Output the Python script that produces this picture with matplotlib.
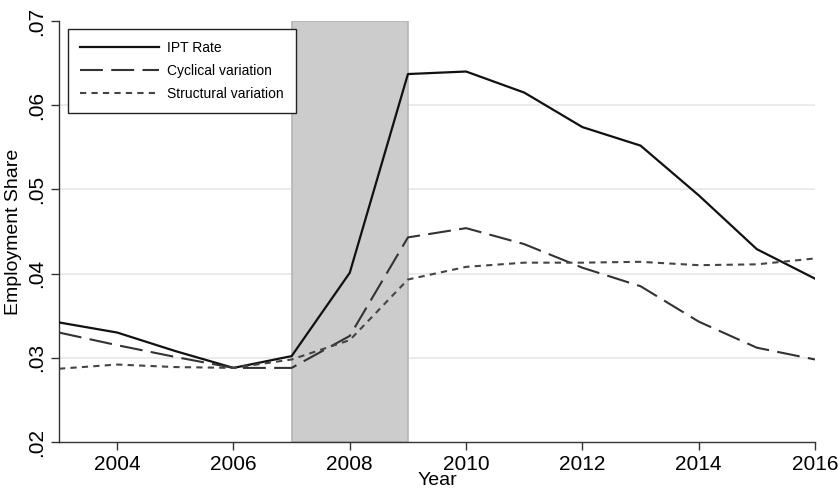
import matplotlib
matplotlib.use("Agg")
import matplotlib.pyplot as plt

# --- DATA ---
years = list(range(2003, 2017))
ipt_rate = [0.0342, 0.0330, 0.0308, 0.0288, 0.0302, 0.0401, 0.0637,
            0.0640, 0.0615, 0.0574, 0.0552, 0.0493, 0.0429, 0.0394]
cyclical = [0.0330, 0.0315, 0.0301, 0.0288, 0.0288, 0.0326, 0.0443,
            0.0454, 0.0435, 0.0407, 0.0385, 0.0343, 0.0312, 0.0298]
structural = [0.0287, 0.0292, 0.0289, 0.0288, 0.0298, 0.0321, 0.0393,
              0.0408, 0.0413, 0.0413, 0.0414, 0.0410, 0.0411, 0.0418]
recession = (2007, 2009)
xticks = [2004, 2006, 2008, 2010, 2012, 2014, 2016]
yticks = [0.02, 0.03, 0.04, 0.05, 0.06, 0.07]
ytick_labels = [".02", ".03", ".04", ".05", ".06", ".07"]

plt.rcParams["font.family"] = ["Liberation Sans", "DejaVu Sans"]

fig = plt.figure(figsize=(8.4, 4.98), dpi=100)
ax = fig.add_axes([59 / 840, 1 - 442 / 498, (815 - 59) / 840, (442 - 21) / 498])

# shaded recession band
ax.axvspan(recession[0], recession[1], facecolor="#cccccc", edgecolor="#b5b5b5",
           linewidth=1.2, zorder=1)

ax.plot(years, ipt_rate, color="#111111", linewidth=1.6, label="IPT Rate", zorder=3)
ax.plot(years, cyclical, color="#333333", linewidth=1.5, dashes=(11, 4),
        label="Cyclical variation", zorder=3)
ax.plot(years, structural, color="#444444", linewidth=1.5, dashes=(3, 2.5),
        label="Structural variation", zorder=3)

# --- AXES ---
ax.set_xlim(2003, 2016)
ax.set_ylim(0.02, 0.07)
ax.set_xticks(xticks)
ax.set_xticklabels([str(x) for x in xticks], fontsize=15)
ax.set_yticks(yticks)
ax.set_yticklabels(ytick_labels, fontsize=15, rotation=90, va="center")
for y in yticks[1:-1]:
    ax.axhline(y, color="#ebebeb", linewidth=1.4, zorder=0)

for side in ["top", "right"]:
    ax.spines[side].set_visible(False)
for side in ["left", "bottom"]:
    ax.spines[side].set_color("#333333")
    ax.spines[side].set_linewidth(1.0)
ax.tick_params(direction="out", length=6, width=1.0, color="#333333", pad=3)

ax.set_xlabel("Year", fontsize=14, labelpad=-1)
ax.set_ylabel("Employment Share", fontsize=14, labelpad=4)

leg = ax.legend(loc="upper left", bbox_to_anchor=(0.012, 0.981), borderaxespad=0,
                fontsize=10, frameon=True, fancybox=False, handlelength=5.7,
                borderpad=0.85, labelspacing=0.65, handletextpad=0.6)
leg.get_frame().set_edgecolor("#222222")
leg.get_frame().set_linewidth(1.0)
leg.get_frame().set_alpha(1)

fig.savefig("out.png", dpi=100)
